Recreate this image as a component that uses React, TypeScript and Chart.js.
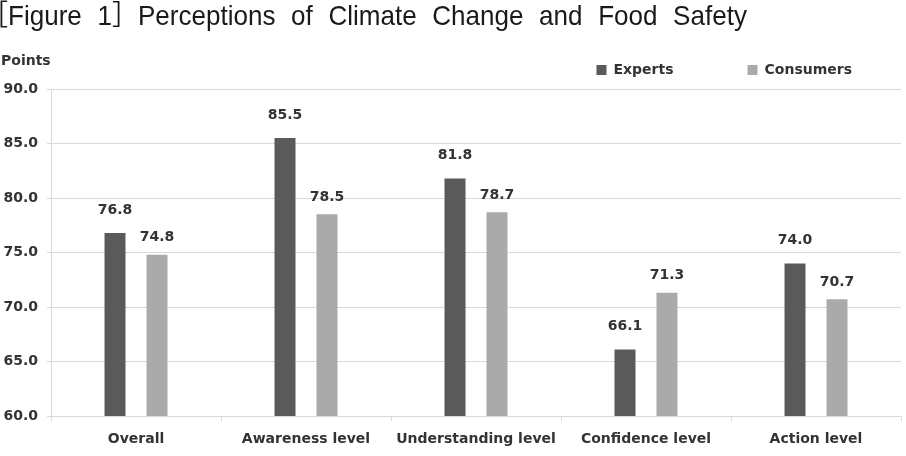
import React, { useEffect, useRef } from 'react';
import { Chart, registerables } from 'chart.js';

Chart.register(...registerables);

// ---- data ----
const categories = ['Overall', 'Awareness level', 'Understanding level', 'Confidence level', 'Action level'];
const seriesNames = ['Experts', 'Consumers'];
const expertsValues = [76.8, 85.5, 81.8, 66.1, 74.0];
const consumersValues = [74.8, 78.5, 78.7, 71.3, 70.7];
const yTickValues = [60, 65, 70, 75, 80, 85, 90];
const titleText = '［Figure 1］Perceptions of Climate Change and Food Safety';
const yUnitText = 'Points';

// ---- styles ----
const FONT = "'DejaVu Sans', sans-serif";
const TITLE_FONT = "28px 'Liberation Sans', 'Noto Sans CJK KR', sans-serif";
const TEXT_COLOR = '#333333';
const GRID_COLOR = '#d9d9d9';
const EXPERT_COLOR = '#5a5a5a';
const CONSUMER_COLOR = '#aaaaaa';

const extraText = {
  id: 'extraText',
  afterDraw(chart: any) {
    const ctx = chart.ctx as CanvasRenderingContext2D;
    ctx.save();
    ctx.fillStyle = '#1a1a1a';
    ctx.font = TITLE_FONT;
    ctx.textAlign = 'left';
    ctx.textBaseline = 'alphabetic';
    (ctx as any).wordSpacing = '9px';
    ctx.translate(-12, 25);
    ctx.scale(0.93, 1);
    ctx.fillText(titleText, 0, 0);
    ctx.restore();

    ctx.save();
    ctx.fillStyle = TEXT_COLOR;
    ctx.font = `bold 14px ${FONT}`;
    ctx.textAlign = 'left';
    ctx.textBaseline = 'alphabetic';
    ctx.fillText(yUnitText, 7, 65);
    ctx.restore();
  },
};

const valueLabels = {
  id: 'valueLabels',
  afterDatasetsDraw(chart: any) {
    const ctx = chart.ctx as CanvasRenderingContext2D;
    ctx.save();
    ctx.font = `bold 14px ${FONT}`;
    ctx.fillStyle = TEXT_COLOR;
    ctx.textAlign = 'center';
    ctx.textBaseline = 'middle';
    chart.data.datasets.forEach((ds: any, i: number) => {
      const meta = chart.getDatasetMeta(i);
      meta.data.forEach((bar: any, j: number) => {
        ctx.fillText(Number(ds.data[j]).toFixed(1), bar.x, bar.y - ds.labelOffset);
      });
    });
    ctx.restore();
  },
};

const legendShift = {
  id: 'legendShift',
  afterLayout(chart: any) {
    const lg = chart.legend;
    if (!lg) return;
    lg.left += 25;
    lg.right += 25;
    lg.top -= 2;
    lg.bottom -= 2;
  },
};

export default function App() {
  const ref = useRef<HTMLCanvasElement>(null);

  useEffect(() => {
    if (!ref.current) return;
    const tickFont = { family: FONT, size: 14, weight: 'bold' as const };
    const chart = new Chart(ref.current, {
      type: 'bar',
      data: {
        labels: categories,
        datasets: [
          {
            label: seriesNames[0],
            data: expertsValues,
            backgroundColor: EXPERT_COLOR,
            borderWidth: 0,
            categoryPercentage: 0.494,
            barPercentage: 0.5,
            labelOffset: 23,
          } as any,
          {
            label: seriesNames[1],
            data: consumersValues,
            backgroundColor: CONSUMER_COLOR,
            borderWidth: 0,
            categoryPercentage: 0.494,
            barPercentage: 0.5,
            labelOffset: 17,
          } as any,
        ],
      },
      options: {
        responsive: false,
        animation: false,
        devicePixelRatio: 1,
        layout: { padding: { top: -9, right: 5, bottom: 0, left: 0 } },
        plugins: {
          legend: {
            position: 'top',
            align: 'end',
            labels: {
              boxWidth: 10,
              boxHeight: 10,
              padding: 74,
              color: TEXT_COLOR,
              font: tickFont,
            },
          },
          title: { display: false },
          tooltip: { enabled: false },
        },
        scales: {
          x: {
            grid: { offset: true, drawOnChartArea: false, drawTicks: true, tickLength: 5, color: GRID_COLOR },
            border: { color: GRID_COLOR },
            ticks: { color: TEXT_COLOR, font: tickFont, padding: 10, maxRotation: 0, autoSkip: false },
            afterFit: (s: any) => { s.height = 40; },
          },
          y: {
            min: 60,
            max: 90,
            afterBuildTicks: (s: any) => { s.ticks = yTickValues.map((v) => ({ value: v })); },
            grid: { color: GRID_COLOR, lineWidth: 1, tickLength: 4 },
            border: { color: GRID_COLOR },
            ticks: {
              color: TEXT_COLOR,
              font: tickFont,
              padding: 9,
              callback: (v: any) => Number(v).toFixed(1),
            },
            afterFit: (s: any) => { s.width = 57; },
          },
        },
      },
      plugins: [extraText, valueLabels, legendShift],
    });
    return () => chart.destroy();
  }, []);

  return (
    <div style={{ position: 'fixed', left: 0, top: 0, width: 906, height: 456, overflow: 'hidden', background: '#ffffff' }}>
      <div style={{ position: 'absolute', left: -6, top: 0, width: 912, height: 456 }}>
        <canvas ref={ref} width={912} height={456} style={{ display: 'block', width: 912, height: 456 }} />
      </div>
    </div>
  );
}
